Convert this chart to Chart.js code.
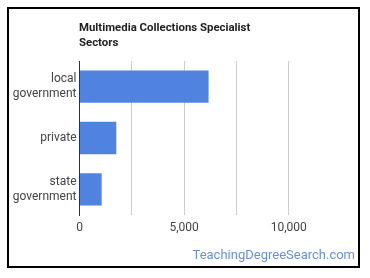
<!DOCTYPE html>
<html>
<head>
<meta charset="utf-8">
<script src="https://cdn.jsdelivr.net/npm/chart.js@4"></script>
<style>
  html, body { margin: 0; padding: 0; background: #fff; }
  #wrap { position: relative; width: 370px; height: 278px; }
  #frame { position: absolute; left: 7px; top: 7px; width: 349px; height: 257px; border: 2px solid #000; pointer-events: none; }
  canvas { position: absolute; left: 0; top: 0; }
</style>
</head>
<body>
<div id="wrap">
  <canvas id="chart" width="370" height="278"></canvas>
  <div id="frame"></div>
</div>
<script>
const sectors = [['local', 'government'], 'private', ['state', 'government']];
const workers = [6170, 1760, 1060];
const xTicks = [0, 2500, 5000, 7500, 10000, 12500];
const xLabelled = [0, 5000, 10000];

const titleLines = ['Multimedia Collections Specialist', 'Sectors'];
const watermark = 'TeachingDegreeSearch.com';

// title + watermark drawn straight onto the canvas
const extraText = {
    id: 'extraText',
    afterDraw(chart) {
        const ctx = chart.ctx;
        ctx.save();
        ctx.fillStyle = '#222';
        ctx.font = 'bold 11.4px Roboto';
        ctx.textAlign = 'left';
        ctx.textBaseline = 'middle';
        ctx.fillText(titleLines[0], 79, 28);
        ctx.fillText(titleLines[1], 79, 43);

        ctx.fillStyle = '#6a8fd4';
        ctx.font = '13px Roboto';
        ctx.textAlign = 'right';
        ctx.fillText(watermark, 355, 256);
        ctx.restore();
    }
};

const chart = document.getElementById('chart').getContext('2d');

new Chart(chart, {
    type: 'bar',
    data: {
        labels: sectors,
        datasets: [{
            data: workers,
            backgroundColor: '#5083e0',
            borderWidth: 0,
            categoryPercentage: 1,
            barPercentage: 0.63
        }]
    },
    options: {
        indexAxis: 'y',
        responsive: false,
        animation: false,
        layout: { padding: { top: 61, right: 29, left: 0, bottom: 0 } },
        plugins: {
            legend: { display: false },
            title: { display: false },
            tooltip: { enabled: false }
        },
        scales: {
            x: {
                min: 0,
                max: 12500,
                afterBuildTicks: s => { s.ticks = xTicks.map(v => ({ value: v })); },
                afterFit: s => { s.height = 63; },
                border: { display: false },
                grid: {
                    drawTicks: false,
                    color: c => (c.tick && (c.tick.value === 0 || c.tick.value === 12500)) ? 'rgba(0,0,0,0)' : '#cccccc'
                },
                ticks: {
                    padding: 6,
                    autoSkip: false,
                    maxRotation: 0,
                    color: '#444',
                    font: { family: 'Roboto', size: 12 },
                    callback: v => xLabelled.includes(v) ? v.toLocaleString('en-US') : ''
                }
            },
            y: {
                afterFit: s => { s.width = 79.5; },
                border: { display: true, color: '#333', width: 1 },
                grid: { display: false, drawTicks: false },
                ticks: {
                    padding: 3,
                    color: '#444',
                    font: { family: 'Roboto', size: 12 }
                }
            }
        }
    },
    plugins: [extraText]
});
</script>
</body>
</html>
